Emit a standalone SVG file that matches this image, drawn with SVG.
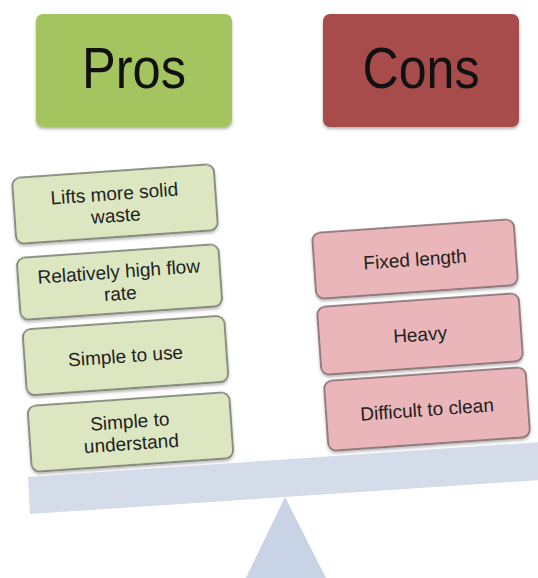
<svg xmlns="http://www.w3.org/2000/svg" width="538" height="578" viewBox="0 0 538 578">
  <defs>
    <filter id="sh" x="-10%" y="-20%" width="120%" height="150%">
      <feDropShadow dx="0" dy="2" stdDeviation="1.5" flood-color="#000" flood-opacity="0.3"/>
    </filter>
  </defs>
  <style>
    .hdr { font-family: "Liberation Sans", Arial, sans-serif; font-size: 57px; fill: #111; text-anchor: middle; }
    .t { font-family: "Liberation Sans", Arial, sans-serif; font-size: 19px; fill: #222; text-anchor: middle; }
    .pro { fill: #dce7c1; stroke: #6e7366; stroke-width: 1.5; filter: url(#sh); }
    .con { fill: #eab6b9; stroke: #7a6466; stroke-width: 1.5; filter: url(#sh); }
  </style>
  <rect width="538" height="578" fill="#ffffff"/>

  <g id="scale">
    <polygon points="285,497 245,580 327,580" fill="#c9d3e6"/>
    <polygon points="28,477 540,442 540,480 30,514" fill="#d4dcea"/>
  </g>

  <g id="pros-header">
    <rect x="36" y="14" width="196" height="113" rx="7" fill="#a3c45f" filter="url(#sh)"/>
    <text class="hdr" x="134" y="88" textLength="104" lengthAdjust="spacingAndGlyphs">Pros</text>
  </g>
  <g id="cons-header">
    <rect x="323" y="14" width="196" height="113" rx="7" fill="#a84b4b" filter="url(#sh)"/>
    <text class="hdr" x="421" y="88" textLength="117" lengthAdjust="spacingAndGlyphs">Cons</text>
  </g>

  <g id="pro1" transform="translate(115,204) rotate(-4)">
    <rect class="pro" x="-101" y="-33" width="202" height="66" rx="8"/>
    <text class="t" x="0" y="-4">Lifts more solid</text>
    <text class="t" x="0" y="18">waste</text>
  </g>
  <g id="pro2" transform="translate(119.5,282) rotate(-4)">
    <rect class="pro" x="-101" y="-31" width="202" height="62" rx="8"/>
    <text class="t" x="0" y="-4">Relatively high flow</text>
    <text class="t" x="0" y="18">rate</text>
  </g>
  <g id="pro3" transform="translate(125.5,355.5) rotate(-4)">
    <rect class="pro" x="-101" y="-33" width="202" height="66" rx="8"/>
    <text class="t" x="0" y="7">Simple to use</text>
  </g>
  <g id="pro4" transform="translate(130.5,432) rotate(-4)">
    <rect class="pro" x="-101" y="-33" width="202" height="66" rx="8"/>
    <text class="t" x="0" y="-4">Simple to</text>
    <text class="t" x="0" y="18">understand</text>
  </g>

  <g id="con1" transform="translate(415,259) rotate(-4)">
    <rect class="con" x="-101" y="-33" width="202" height="66" rx="8"/>
    <text class="t" x="0" y="7">Fixed length</text>
  </g>
  <g id="con2" transform="translate(420,334) rotate(-4)">
    <rect class="con" x="-101" y="-34" width="202" height="68" rx="8"/>
    <text class="t" x="0" y="7">Heavy</text>
  </g>
  <g id="con3" transform="translate(427,409) rotate(-4)">
    <rect class="con" x="-101" y="-35" width="202" height="70" rx="8"/>
    <text class="t" x="0" y="7">Difficult to clean</text>
  </g>

  <g id="connectors"></g>
</svg>
